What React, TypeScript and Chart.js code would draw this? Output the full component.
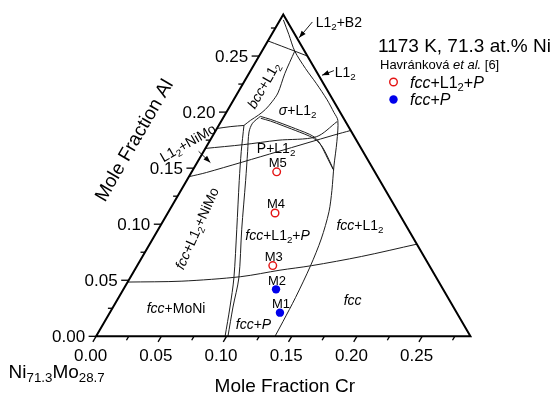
import React, { useEffect, useRef } from "react";
import { Chart, registerables } from "chart.js";

Chart.register(...registerables);

// ---- data: compositions as [Cr, Al] mole fractions (Ni fixed at 0.713) ----
const SIDE = 0.287;

const CR_TICKS = [0, 0.05, 0.1, 0.15, 0.2, 0.25];
const AL_TICKS = [0, 0.05, 0.1, 0.15, 0.2, 0.25];
const TICK_LABELS = ["0.00", "0.05", "0.10", "0.15", "0.20", "0.25"];
const MINOR_TICKS = [0.025, 0.075, 0.125, 0.175, 0.225, 0.275];

const triangleEdge: number[][] = [[0, 0], [0.287, 0], [0, 0.287], [0, 0], [0.287, 0]];

const lineA: number[][] = [[0.0, 0.0484], [0.0412, 0.0492], [0.0843, 0.0532], [0.1115, 0.059], [0.1336, 0.063], [0.1678, 0.0712], [0.2048, 0.0822]];
const lineV1: number[][] = [[0.0989, 0], [0.0896, 0.0261], [0.0796, 0.0521], [0.0601, 0.0955], [0.0403, 0.1389], [0.0288, 0.165], [0.0193, 0.1881]];
const lineV2: number[][] = [[0.1011, 0], [0.0919, 0.0261], [0.0834, 0.0521], [0.0639, 0.0955], [0.0452, 0.1389], [0.0337, 0.165], [0.0261, 0.1823], [0.0249, 0.1901], [0.0278, 0.1962]];
const lineA2: number[][] = [[0, 0.1854], [0.0098, 0.1871], [0.0193, 0.1881]];
const lineC1: number[][] = [[0.0193, 0.1881], [0.0221, 0.1927], [0.0258, 0.1973], [0.0286, 0.2023], [0.0303, 0.2092], [0.0309, 0.2171], [0.0275, 0.2344], [0.0251, 0.2544]];
const lineT1: number[][] = [[0, 0.2635], [0.0251, 0.2544], [0.037, 0.25]];
const lineC2: number[][] = [[0.0025, 0.2822], [0.0132, 0.2692], [0.0251, 0.2544], [0.0412, 0.2388], [0.0559, 0.2257], [0.0716, 0.211], [0.0825, 0.1997], [0.089, 0.1927], [0.0978, 0.1736], [0.1064, 0.1519], [0.1157, 0.1302], [0.123, 0.1111], [0.1292, 0.0868], [0.133, 0.0625], [0.1356, 0.0347], [0.1367, 0.013], [0.1372, 0]];
const lineP: number[][] = [[0, 0.1676], [0.0276, 0.171], [0.052, 0.1749], [0.0798, 0.178], [0.089, 0.1915]];
const lineQ: number[][] = [[0, 0.1424], [0.0115, 0.1461], [0.0571, 0.1648], [0.0926, 0.1795], [0.1034, 0.1836]];
const lineD1: number[][] = [[0.0278, 0.1962], [0.0367, 0.1936], [0.0485, 0.1895], [0.0641, 0.1838], [0.0735, 0.1802], [0.0803, 0.1765], [0.0875, 0.1702], [0.095, 0.1621], [0.1072, 0.149]];
const lineD2: number[][] = [[0.029, 0.1945], [0.0377, 0.192], [0.0495, 0.1878], [0.0651, 0.1821], [0.0747, 0.1784], [0.0818, 0.1747], [0.0893, 0.1686], [0.0968, 0.1608], [0.108, 0.1483]];

const phaseLines = [lineA, lineV1, lineV2, lineA2, lineC1, lineT1, lineC2, lineP, lineQ, lineD1, lineD2];

// Havránková et al. samples
const openNames = ["M3", "M4", "M5"];
const openCr = [0.1039, 0.0822, 0.0651];
const openAl = [0.0631, 0.11, 0.1467];
const filledNames = ["M1", "M2"];
const filledCr = [0.1304, 0.117];
const filledAl = [0.0211, 0.0419];

type Seg = { t: string; it?: boolean; sub?: boolean };
const L12: Seg[] = [{ t: "L1" }, { t: "2", sub: true }];

const regionLabels: { segs: Seg[]; at: number[]; rot?: number }[] = [
  { segs: [{ t: "bcc", it: true }, { t: "+" }, ...L12], at: [0.0162, 0.224], rot: -60 },
  { segs: [{ t: "σ", it: true }, { t: "+" }, ...L12], at: [0.0534, 0.2023] },
  { segs: [{ t: "P" }, { t: "+" }, ...L12], at: [0.0538, 0.1684] },
  { segs: [{ t: "fcc", it: true }, { t: "+" }, ...L12, { t: "+NiMo" }], at: [0.0289, 0.0964], rot: -66 },
  { segs: [{ t: "fcc", it: true }, { t: "+MoNi" }], at: [0.0487, 0.0252] },
  { segs: [{ t: "fcc", it: true }, { t: "+" }, { t: "P", it: true }], at: [0.115, 0.0113] },
  { segs: [{ t: "fcc", it: true }, { t: "+" }, ...L12, { t: "+" }, { t: "P", it: true }], at: [0.094, 0.0903] },
  { segs: [{ t: "fcc", it: true }, { t: "+" }, ...L12], at: [0.1528, 0.099] },
  { segs: [{ t: "fcc", it: true }], at: [0.1806, 0.0321] },
  { segs: [...L12, { t: "+NiMo" }], at: [-0.0161, 0.1728], rot: -30 },
  { segs: [...L12, { t: "+B2" }], at: [0.0459, 0.2804] },
  { segs: [...L12], at: [0.0729, 0.2362] },
];

const callouts: { from: number[]; to: number[] }[] = [
  { from: [-0.0039, 0.165], to: [0.0101, 0.155] },
  { from: [0.0256, 0.2804], to: [0.0225, 0.2663] },
  { from: [0.0638, 0.237], to: [0.0568, 0.2329] },
];

const TITLE = "1173 K, 71.3 at.% Ni";
const SOURCE: Seg[] = [{ t: "Havránková " }, { t: "et al.", it: true }, { t: " [6]" }];
const LEGEND_OPEN: Seg[] = [{ t: "fcc", it: true }, { t: "+" }, ...L12, { t: "+" }, { t: "P", it: true }];
const LEGEND_FILLED: Seg[] = [{ t: "fcc", it: true }, { t: "+" }, { t: "P", it: true }];

// ---- drawing helpers ----
const FAM = '"Liberation Sans", Arial, Helvetica, sans-serif';
const SQ3_2 = Math.sqrt(3) / 2;
const RED = "rgb(228,20,20)";
const BLUE = "rgb(0,0,235)";
const toXY = (p: number[]) => ({ x: p[0] + p[1] / 2, y: p[1] * SQ3_2 });

function drawRich(ctx: CanvasRenderingContext2D, segs: Seg[], x: number, y: number, size: number, align: string, rotDeg = 0) {
  const subSize = size * 0.7;
  const font = (s: Seg) => `${s.it ? "italic " : ""}${s.sub ? subSize : size}px ${FAM}`;
  let w = 0;
  const widths = segs.map((s) => {
    ctx.font = font(s);
    const m = ctx.measureText(s.t).width;
    w += m;
    return m;
  });
  ctx.save();
  ctx.translate(x, y);
  if (rotDeg) ctx.rotate((rotDeg * Math.PI) / 180);
  ctx.textAlign = "left";
  ctx.textBaseline = "alphabetic";
  let cx = align === "left" ? 0 : align === "center" ? -w / 2 : -w;
  const base = size * 0.36;
  segs.forEach((s, i) => {
    ctx.font = font(s);
    ctx.fillText(s.t, cx, base + (s.sub ? size * 0.22 : 0));
    cx += widths[i];
  });
  ctx.restore();
}

function arrowHead(ctx: CanvasRenderingContext2D, fx: number, fy: number, tx: number, ty: number, len: number, half: number) {
  const a = Math.atan2(ty - fy, tx - fx);
  ctx.beginPath();
  ctx.moveTo(tx, ty);
  ctx.lineTo(tx - len * Math.cos(a) + half * Math.sin(a), ty - len * Math.sin(a) - half * Math.cos(a));
  ctx.lineTo(tx - len * Math.cos(a) - half * Math.sin(a), ty - len * Math.sin(a) + half * Math.cos(a));
  ctx.closePath();
  ctx.fill();
}

const overlayPlugin = {
  id: "overlay",
  beforeDraw(chart: any) {
    const { ctx, width, height } = chart;
    ctx.save();
    ctx.fillStyle = "#fff";
    ctx.fillRect(0, 0, width, height);
    ctx.restore();
  },
  afterDatasetsDraw(chart: any) {
    const ctx: CanvasRenderingContext2D = chart.ctx;
    const xs = chart.scales.x;
    const ys = chart.scales.y;
    const P = (cr: number, al: number) => [xs.getPixelForValue(cr + al / 2), ys.getPixelForValue(al * SQ3_2)];
    ctx.save();
    ctx.strokeStyle = "#000";
    ctx.fillStyle = "#000";
    ctx.lineWidth = 1.3;

    // ticks on Cr (bottom) axis, slanted along constant-Cr direction
    const ticks: [number, boolean][] = [...CR_TICKS.map((v) => [v, true] as [number, boolean]), ...MINOR_TICKS.map((v) => [v, false] as [number, boolean])];
    ticks.forEach(([v, major]) => {
      const [px, py] = P(v, 0);
      const len = major ? 6.5 : 4.5;
      ctx.beginPath();
      ctx.moveTo(px, py);
      ctx.lineTo(px - len * 0.5, py + len * SQ3_2);
      ctx.stroke();
    });
    // ticks on Al (left) axis, horizontal
    ticks.forEach(([v, major]) => {
      const [px, py] = P(0, v);
      const len = major ? 7.5 : 4.5;
      ctx.beginPath();
      ctx.moveTo(px, py);
      ctx.lineTo(px - len, py);
      ctx.stroke();
    });

    // tick labels
    ctx.font = `17px ${FAM}`;
    ctx.textBaseline = "alphabetic";
    ctx.textAlign = "center";
    CR_TICKS.forEach((v, i) => {
      const [px, py] = P(v, 0);
      ctx.fillText(TICK_LABELS[i], px - 5.5, py + 25);
    });
    ctx.textAlign = "right";
    AL_TICKS.forEach((v, i) => {
      const [px, py] = P(0, v);
      ctx.fillText(TICK_LABELS[i], px - 11, py + 6);
    });

    // axis titles
    const [bx, by] = P(SIDE / 2, 0);
    ctx.font = `19px ${FAM}`;
    ctx.textAlign = "center";
    ctx.fillText("Mole Fraction Cr", bx + 1.5, by + 56);
    const [ex, ey] = P(0, 0.1455);
    ctx.save();
    ctx.translate(ex - 65 * SQ3_2, ey - 65 * 0.5);
    ctx.rotate(-Math.PI / 3);
    ctx.textBaseline = "middle";
    ctx.fillText("Mole Fraction Al", 0, 0);
    ctx.restore();

    // Ni71.3Mo28.7 corner label
    const [ox, oy] = P(0, 0);
    drawRich(ctx, [{ t: "Ni" }, { t: "71.3", sub: true }, { t: "Mo" }, { t: "28.7", sub: true }], ox - 87.5, oy + 34.5, 19, "left");

    // region labels
    regionLabels.forEach((r) => {
      const [px, py] = P(r.at[0], r.at[1]);
      drawRich(ctx, r.segs, px, py, 14, "center", r.rot || 0);
    });

    // callouts
    ctx.lineWidth = 0.9;
    callouts.forEach((c) => {
      const [fx, fy] = P(c.from[0], c.from[1]);
      const [tx, ty] = P(c.to[0], c.to[1]);
      ctx.beginPath();
      ctx.moveTo(fx, fy);
      ctx.lineTo(tx, ty);
      ctx.stroke();
      arrowHead(ctx, fx, fy, tx, ty, 7, 2.6);
    });

    // sample labels
    ctx.font = `13px ${FAM}`;
    ctx.textAlign = "center";
    ctx.textBaseline = "alphabetic";
    openNames.forEach((n, i) => {
      const [px, py] = P(openCr[i], openAl[i]);
      ctx.fillText(n, px + 1, py - 4.5);
    });
    filledNames.forEach((n, i) => {
      const [px, py] = P(filledCr[i], filledAl[i]);
      ctx.fillText(n, px + 1, py - 4.5);
    });

    // title and legend (right side)
    ctx.textAlign = "left";
    ctx.font = `19px ${FAM}`;
    ctx.fillText(TITLE, 378, 52);
    drawRich(ctx, SOURCE, 380, 64.5, 13, "left");
    ctx.lineWidth = 1.4;
    ctx.strokeStyle = RED;
    ctx.beginPath();
    ctx.arc(393.5, 82, 3.8, 0, Math.PI * 2);
    ctx.stroke();
    ctx.fillStyle = BLUE;
    ctx.beginPath();
    ctx.arc(393.5, 99.5, 4.2, 0, Math.PI * 2);
    ctx.fill();
    ctx.fillStyle = "#000";
    drawRich(ctx, LEGEND_OPEN, 410, 82, 16, "left");
    drawRich(ctx, LEGEND_FILLED, 410, 99.5, 16, "left");
    ctx.restore();
  },
};

export default function App() {
  const ref = useRef<HTMLCanvasElement | null>(null);
  useEffect(() => {
    document.body.style.margin = "0";
    const canvas = ref.current;
    if (!canvas) return;
    const S = 1330; // px per unit mole fraction
    const X0 = 92.5;
    const Y0 = 340;
    const W = 557;
    const H = 404;
    const datasets: any[] = [
      {
        label: "fcc+L12+P",
        data: openCr.map((c, i) => toXY([c, openAl[i]])),
        showLine: false,
        pointStyle: "circle",
        pointRadius: 3.8,
        pointBorderWidth: 1.4,
        pointBorderColor: RED,
        pointBackgroundColor: "rgba(255,255,255,0)",
        order: 0,
      },
      {
        label: "fcc+P",
        data: filledCr.map((c, i) => toXY([c, filledAl[i]])),
        showLine: false,
        pointStyle: "circle",
        pointRadius: 4.2,
        pointBorderWidth: 0,
        pointBorderColor: BLUE,
        pointBackgroundColor: BLUE,
        order: 0,
      },
      {
        label: "edge",
        data: triangleEdge.map(toXY),
        showLine: true,
        borderColor: "#000",
        borderWidth: 2,
        borderJoinStyle: "miter",
        pointRadius: 0,
        tension: 0,
        order: 1,
      },
      ...phaseLines.map((l, i) => ({
        label: "phase" + i,
        data: l.map(toXY),
        showLine: true,
        borderColor: "#1e1e1e",
        borderWidth: 1,
        pointRadius: 0,
        tension: 0.3,
        order: 2,
      })),
    ];
    const chart = new Chart(canvas, {
      type: "scatter",
      data: { datasets },
      options: {
        responsive: false,
        animation: false,
        devicePixelRatio: 1,
        events: [],
        layout: { padding: 0 },
        plugins: { legend: { display: false }, tooltip: { enabled: false }, title: { display: false } },
        scales: {
          x: { type: "linear", display: false, min: -X0 / S, max: (W - X0) / S },
          y: { type: "linear", display: false, min: -(H - Y0) / S, max: Y0 / S },
        },
      },
      plugins: [overlayPlugin],
    } as any);
    return () => chart.destroy();
  }, []);
  return <canvas ref={ref} width={557} height={404} style={{ display: "block" }} />;
}
